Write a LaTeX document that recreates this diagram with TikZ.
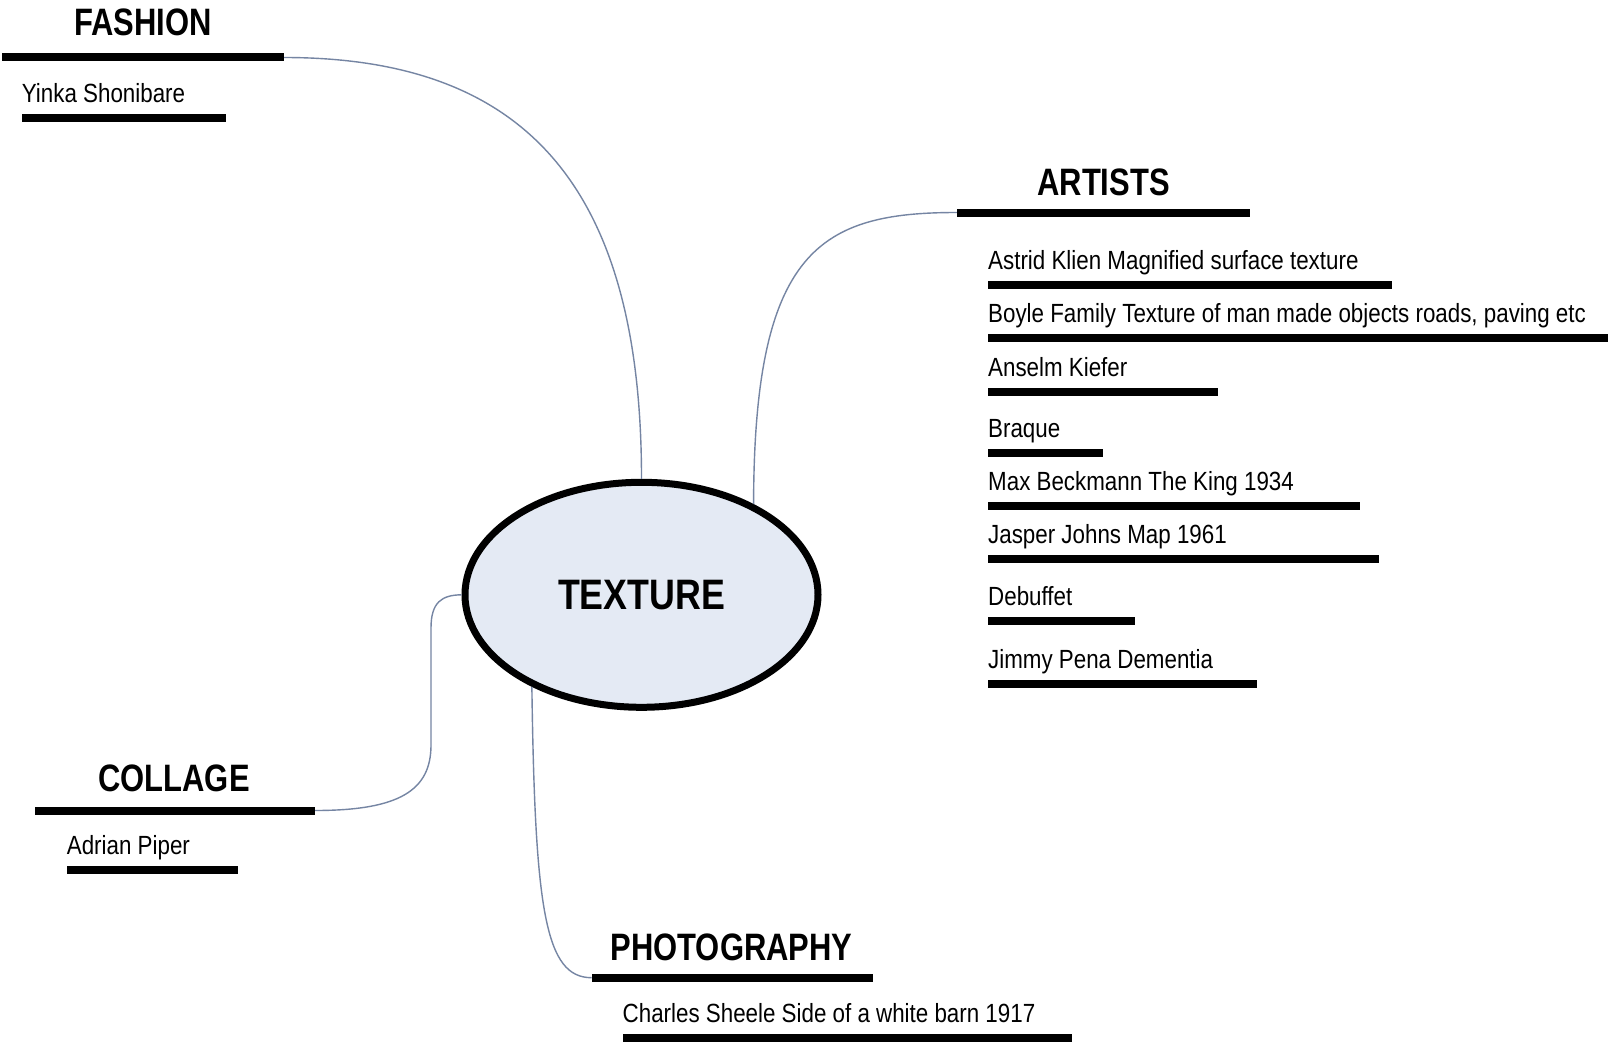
\documentclass[tikz,border=0pt]{standalone}
\usepackage{fontspec}
\newfontfamily\headfont[FakeStretch=0.81]{Liberation Sans}
\newfontfamily\itemfont[FakeStretch=0.85]{Liberation Sans}
\newfontfamily\centerfont[FakeStretch=0.84]{Liberation Sans}
\usetikzlibrary{shapes.geometric}
\definecolor{elfill}{HTML}{E4EAF4}
\definecolor{conn}{HTML}{7585A3}
\begin{document}
\begin{tikzpicture}[x=1pt,y=-1pt,
  head/.style={anchor=base, inner sep=0pt, font=\headfont\bfseries\fontsize{38.2}{42}\selectfont},
  item/.style={anchor=base west, inner sep=0pt, font=\itemfont\fontsize{26.3}{30}\selectfont},
  bar/.style={fill=black, inner sep=0pt, outer sep=0pt, minimum height=8pt, anchor=west},
  link/.style={draw=conn, line width=1.4pt}]
\fill[white] (0,0) rectangle (1608,1043);
\useasboundingbox (0,0) rectangle (1608,1043);

% centre
\node[ellipse, draw=black, line width=7pt, fill=elfill, minimum width=353pt, minimum height=225pt, inner sep=0pt,
      font=\centerfont\bfseries\fontsize{42.6}{46}\selectfont] (tex) at (641.5,594.8) {TEXTURE};

% FASHION
\node[head] (fash) at (143,36) {FASHION};
\node[bar, minimum width=282pt] (fbar) at (2,57.5) {};
\node[item] (yinka) at (21.7,102.5) {Yinka Shonibare};
\node[bar, minimum width=204.5pt] (ybar) at (21.7,118) {};

% ARTISTS
\node[head] (art) at (1103.5,196) {ARTISTS};
\node[bar, minimum width=293.2pt] (abar) at (956.8,212.5) {};
\node[item] (a1) at (988,269.5) {Astrid Klien Magnified surface texture};
\node[bar, minimum width=403.6pt] (a1bar) at (988,285.1) {};
\node[item] (a2) at (988,322.9) {Boyle Family Texture of man made objects roads, paving etc};
\node[bar, minimum width=620pt] (a2bar) at (988,338.4) {};
\node[item] (a3) at (988,376) {Anselm Kiefer};
\node[bar, minimum width=230.3pt] (a3bar) at (988,391.5) {};
\node[item] (a4) at (988,437.5) {Braque};
\node[bar, minimum width=115.4pt] (a4bar) at (988,453) {};
\node[item] (a5) at (988,490.2) {Max Beckmann The King 1934};
\node[bar, minimum width=371.8pt] (a5bar) at (988,505.7) {};
\node[item] (a6) at (988,543.5) {Jasper Johns Map 1961};
\node[bar, minimum width=391.3pt] (a6bar) at (988,559) {};
\node[item] (a7) at (988,605.2) {Debuffet};
\node[bar, minimum width=147.2pt] (a7bar) at (988,620.7) {};
\node[item] (a8) at (988,668.5) {Jimmy Pena Dementia};
\node[bar, minimum width=269.3pt] (a8bar) at (988,684) {};

% COLLAGE
\node[head] (col) at (174,791) {COLLAGE};
\node[bar, minimum width=280pt] (cbar) at (35,810.5) {};
\node[item] (adr) at (66.7,854.5) {Adrian Piper};
\node[bar, minimum width=171.6pt] (adbar) at (66.7,870) {};

% PHOTOGRAPHY
\node[head] (pho) at (731.5,960) {PHOTOGRAPHY};
\node[bar, minimum width=281.3pt] (pbar) at (591.7,977.7) {};
\node[item] (cha) at (622.5,1022.5) {Charles Sheele Side of a white barn 1917};
\node[bar, minimum width=449.2pt] (chbar) at (622.5,1037.8) {};

% connectors
\draw[link] (fbar.east) .. controls (520,57.5) and (641.5,180) .. (tex.north);
\draw[link] (abar.west) .. controls (820,212.5) and (754,250) .. (tex.39.5);
\draw[link] (cbar.east) .. controls (400,810.5) and (431,790) .. (431,745) -- (431,628)
            .. controls (431,602) and (442,595) .. (tex.west);
\draw[link] (tex.220) .. controls (535,910) and (545,977.7) .. (pbar.west);
\end{tikzpicture}
\end{document}
